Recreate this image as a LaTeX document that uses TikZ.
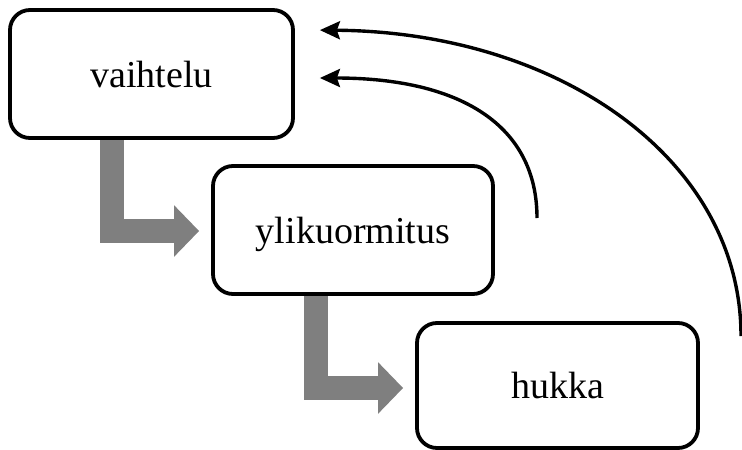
\documentclass[tikz,border=0pt]{standalone}
\usepackage{fontspec}
\setmainfont{Liberation Serif}
\usetikzlibrary{arrows.meta,calc,backgrounds}

\definecolor{stepgray}{RGB}{127,127,127}

\tikzset{
  stagebox/.style={draw=black, line width=3.8pt, rounded corners=20pt,
    fill=white, font=\fontsize{38}{40}\selectfont,
    text height=26pt, text depth=0pt, inner sep=0pt},
  fatarrow/.style={draw=stepgray, line width=24pt, line join=miter,
    -{Triangle[length=25pt, width=50pt]}},
  backarrow/.style={draw=black, line width=3.4pt,
    -{Stealth[length=20pt, width=18pt, inset=3pt]}}
}

\begin{document}
\begin{tikzpicture}[x=1pt, y=-1pt]
  \useasboundingbox (0,0) rectangle (742,450);

  % stage boxes
  \node[stagebox, minimum width=283pt, minimum height=128pt] (b1) at (151.5,74) {vaihtelu};
  \node[stagebox, minimum width=280pt, minimum height=128pt] (b2) at (353,230) {ylikuormitus};
  \node[stagebox, minimum width=281pt, minimum height=125pt] (b3) at (557.5,385.5) {hukka};

  % gray stepping arrows, kept behind the boxes
  \begin{scope}[on background layer]
    \draw[fatarrow] ($(b1.south west)+(103.5,-2)$) |- ($(b2.west)+(-12,1)$);
    \draw[fatarrow] ($(b2.south west)+(104.5,-2)$) |- ($(b3.west)+(-12,2.5)$);
  \end{scope}

  % feedback curves back to the first stage
  \coordinate (inA) at (537,218);
  \coordinate (outA) at (741,336);
  \draw[backarrow] (inA) .. controls (537,125) and (460,78) .. ($(b1.east)+(25,4)$);
  \draw[backarrow] (outA) .. controls (741,160) and (560,32) .. ($(b1.north east)+(25,22)$);
\end{tikzpicture}
\end{document}
